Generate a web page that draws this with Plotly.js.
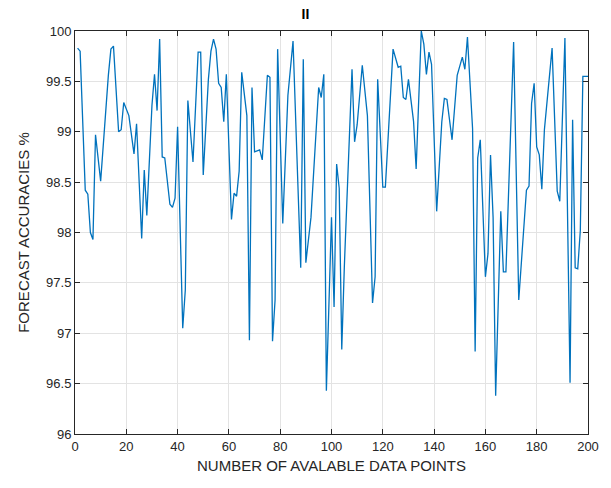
<!DOCTYPE html>
<html>
<head>
<meta charset="utf-8">
<script src="https://cdn.plot.ly/plotly-3.0.1.min.js"></script>
<style>html,body{margin:0;padding:0;background:#fff;}#chart{width:611px;height:488px;}</style>
</head>
<body>
<div id="chart"></div>
<script>
const dataPoints = [1,2,4,5,6,7,8,10,13,14,15,17,18,19,21,23,24,26,27,28,30,31,32,33,
  34,35,37,38,39,40,42,43,44,46,48,49,50,52,53,54,55,56,57,58,59,61,62,63,64,65,
  67,68,69,70,72,73,75,76,77,78,79,81,83,85,88,89,90,92,95,96,97,98,
  100,101,102,103,104,105,108,109,110,112,114,116,117,118,120,121,124,126,127,128,129,130,
  132,133,135,136,137,138,139,141,143,144,145,147,149,151,152,153,155,156,157,158,160,161,162,163,164,
  166,167,168,171,173,176,177,178,179,180,181,182,183,186,188,189,191,193,194,195,196,197,198,200];
const accuracies = [99.83,99.80,98.42,98.38,98.00,97.93,98.97,98.51,99.56,99.82,99.85,99.00,99.02,99.29,99.16,98.78,99.08,97.94,98.62,98.17,99.26,99.57,99.21,99.92,
  98.75,98.74,98.28,98.25,98.34,99.05,97.05,97.43,99.31,98.70,99.79,99.79,98.57,99.52,99.80,99.92,99.82,99.48,99.44,99.10,99.57,98.13,98.39,98.36,98.61,99.59,
  99.16,96.93,99.44,98.80,98.82,98.72,99.56,99.54,96.92,97.33,99.82,98.09,99.36,99.90,97.65,99.72,97.70,98.15,99.44,99.34,99.57,96.43,
  98.15,97.26,98.68,98.44,96.84,97.66,99.62,98.90,99.07,99.66,99.16,97.30,97.56,99.52,98.45,98.45,99.82,99.64,99.65,99.34,99.32,99.52,
  99.10,98.63,100.0,99.87,99.57,99.79,99.67,98.21,99.10,99.33,99.32,98.92,99.56,99.74,99.62,99.94,99.03,96.82,98.74,98.92,97.56,97.79,98.77,98.15,96.38,
  98.21,97.61,97.61,99.89,97.33,98.42,98.46,99.28,99.48,98.85,98.77,98.43,99.02,99.83,98.41,98.31,99.93,96.51,99.12,97.65,97.64,98.02,99.55,99.55];
const xTicks = [0,20,40,60,80,100,120,140,160,180,200];
const yTicks = [96,96.5,97,97.5,98,98.5,99,99.5,100];
const yTickLabels = ['96','96.5','97','97.5','98','98.5','99','99.5','100'];

const axisCommon = {
  showline: true, linecolor: '#262626', linewidth: 1, mirror: 'ticks',
  ticks: 'inside', ticklen: 5, tickcolor: '#262626',
  showgrid: true, gridcolor: '#e3e3e3', gridwidth: 1,
  zeroline: false,
  tickfont: {family: 'Liberation Sans, Arial, sans-serif', size: 13, color: '#262626'}
};

Plotly.newPlot('chart', [{
  x: dataPoints, y: accuracies, type: 'scatter', mode: 'lines',
  line: {color: '#0072BD', width: 1.3}, hoverinfo: 'skip'
}], {
  width: 611, height: 488,
  margin: {l: 75, r: 23, t: 31, b: 54},
  paper_bgcolor: '#ffffff', plot_bgcolor: '#ffffff',
  showlegend: false,
  title: {text: '<b>II</b>', x: 0.5, xanchor: 'center', y: 0.972, yanchor: 'middle',
    font: {family: 'Liberation Sans, Arial, sans-serif', size: 14, color: '#000'}},
  xaxis: Object.assign({}, axisCommon, {
    range: [0, 200], tickvals: xTicks, ticktext: xTicks.map(String),
    title: {text: 'NUMBER OF AVALABLE DATA POINTS', standoff: 7,
      font: {family: 'Liberation Sans, Arial, sans-serif', size: 15, color: '#262626'}}
  }),
  yaxis: Object.assign({}, axisCommon, {
    range: [96, 100], tickvals: yTicks, ticktext: yTickLabels,
    title: {text: 'FORECAST ACCURACIES %', standoff: 12,
      font: {family: 'Liberation Sans, Arial, sans-serif', size: 15, color: '#262626'}}
  })
}, {staticPlot: true});
</script>
</body>
</html>
